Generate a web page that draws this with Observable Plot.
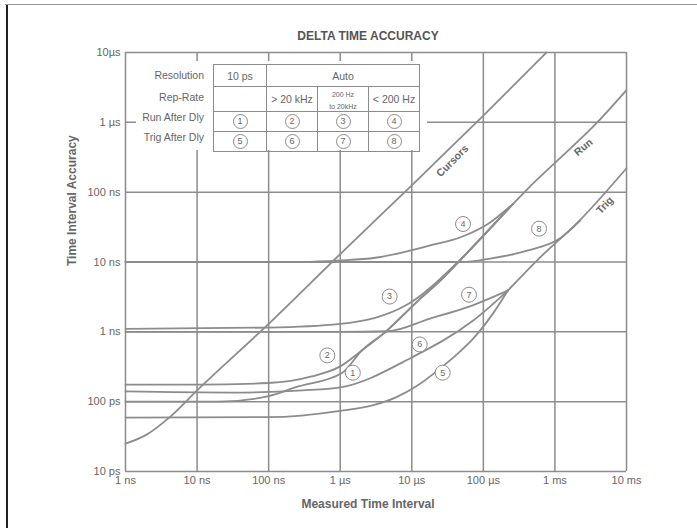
<!DOCTYPE html>
<html>
<head>
<meta charset="utf-8">
<script src="https://cdn.jsdelivr.net/npm/d3@7"></script>
<script src="https://cdn.jsdelivr.net/npm/@observablehq/plot@0.6"></script>
<style>
  html, body { margin: 0; padding: 0; background: #fff; }
  #wrap { position: relative; width: 697px; height: 528px; overflow: hidden; font-family: "Liberation Sans", Arial, sans-serif; color: #666; }
  #topline { position: absolute; left: 5px; top: 4px; width: 692px; height: 0; border-top: 1.5px solid #999; }
  #leftline { position: absolute; left: 6px; top: 5px; width: 0; height: 523px; border-left: 2px solid #222; }
  #cover { position: absolute; left: 136px; top: 61px; width: 291px; height: 89px; background: #fff; }
  #rowlabels { position: absolute; left: 120px; top: 64px; width: 84px; font-size: 10.5px; color: #666; text-align: right; }
  #legend { position: absolute; left: 213px; top: 64px; border-collapse: collapse; font-size: 10.5px; color: #666; }
  #legend td { border: 1px solid #8c8c8c; text-align: center; padding: 0; height: 19px; }
  .c { display: inline-block; width: 13px; height: 13px; line-height: 13px; border: 1px solid #8c8c8c; border-radius: 50%; font-size: 9px; }
  .small { font-size: 7px; line-height: 7px; }
</style>
</head>
<body>
<div id="wrap">
  <div id="chart"></div>
  <div id="cover"></div>
  <div id="rowlabels"></div>
  <table id="legend"></table>
  <div id="topline"></div>
  <div id="leftline"></div>
</div>
<script>
// ---- axis ticks ----
const xTicks = [1e-9, 1e-8, 1e-7, 1e-6, 1e-5, 1e-4, 1e-3, 1e-2];
const xTickLabels = ["1 ns", "10 ns", "100 ns", "1 µs", "10 µs", "100 µs", "1 ms", "10 ms"];
const yTicks = [1e-11, 1e-10, 1e-9, 1e-8, 1e-7, 1e-6, 1e-5];
const yTickLabels = ["10 ps", "100 ps", "1 ns", "10 ns", "100 ns", "1 µs", "10µs"];

// ---- curves: [measured interval (s), accuracy (s)] ----
const cursors = [[1e-9, 2.5e-11], [2e-9, 3.4e-11], [4e-9, 5.8e-11], [1e-8, 1.45e-10], [1e-7, 1.3e-9], [1e-6, 1.3e-8], [1e-5, 1.25e-7], [1e-4, 1.25e-6], [7.6e-4, 1e-5]];
const run = [[2.6e-4, 6.8e-8], [4.1e-4, 1.1e-7], [1.07e-3, 2.8e-7], [3.9e-3, 1e-6], [1e-2, 2.9e-6]];
const trig = [[2.2e-4, 3.9e-9], [5.6e-4, 1.05e-8], [2.2e-3, 3.9e-8], [1e-2, 2.2e-7]];
const curve1 = [[1e-9, 1e-10], [2e-8, 1e-10], [1e-7, 1.2e-10], [2.35e-7, 1.6e-10], [1.07e-6, 2.6e-10], [2e-6, 5.4e-10], [4.3e-6, 1e-9], [1.23e-5, 2.8e-9], [2.5e-5, 5.4e-9], [4.7e-5, 1.05e-8], [1.2e-4, 2.9e-8], [2.6e-4, 6.8e-8]];
const curve2 = [[1e-9, 1.75e-10], [1e-8, 1.75e-10], [1e-7, 1.85e-10], [4e-7, 2.3e-10], [1e-6, 3.2e-10], [2e-6, 5.4e-10], [4.3e-6, 1e-9], [1.23e-5, 2.8e-9], [2.5e-5, 5.4e-9], [4.7e-5, 1.05e-8], [1.2e-4, 2.9e-8], [2.6e-4, 6.8e-8]];
const curve3 = [[1e-9, 1.1e-9], [1e-7, 1.15e-9], [1e-6, 1.3e-9], [8.9e-6, 2.5e-9], [4.5e-5, 1.02e-8], [1.2e-4, 2.9e-8], [2.6e-4, 6.8e-8]];
const curve4 = [[1e-9, 1e-8], [3e-7, 1e-8], [1e-6, 1.05e-8], [3.1e-6, 1.15e-8], [1.7e-5, 1.7e-8], [5e-5, 2.3e-8], [1.2e-4, 3.6e-8], [2.6e-4, 6.8e-8]];
const curve5 = [[1e-9, 5.9e-11], [1e-7, 6e-11], [1e-6, 7.4e-11], [3e-6, 9e-11], [6e-6, 1.15e-10], [1.2e-5, 1.7e-10], [2.5e-5, 3e-10], [4.5e-5, 5e-10], [7.2e-5, 8e-10], [1.4e-4, 1.9e-9], [2.2e-4, 3.9e-9]];
const curve6 = [[1e-9, 1.4e-10], [3e-8, 1.35e-10], [3e-7, 1.45e-10], [1e-6, 1.6e-10], [1e-5, 4.3e-10], [7.2e-5, 1.45e-9], [2.2e-4, 3.9e-9]];
const curve7 = [[1e-9, 1e-9], [1e-6, 1e-9], [4.6e-6, 1.02e-9], [1.8e-5, 1.55e-9], [5.6e-5, 2.2e-9], [2.2e-4, 3.9e-9]];
const curve8 = [[1e-9, 1e-8], [5e-5, 1e-8], [1.25e-4, 1.12e-8], [4.1e-4, 1.45e-8], [1.2e-3, 2.2e-8], [2.25e-3, 3.9e-8]];

// ---- annotations ----
const circleNums = ["1", "2", "3", "4", "5", "6", "7", "8"];
const circleX = [1.5e-6, 6.6e-7, 4.9e-6, 5.2e-5, 2.7e-5, 1.29e-5, 6.3e-5, 6.0e-4];
const circleY = [2.6e-10, 4.6e-10, 3.2e-9, 3.5e-8, 2.6e-10, 6.6e-10, 3.4e-9, 3.0e-8];
const curveNames = ["Cursors", "Run", "Trig"];
const curveNameX = [3.7e-5, 2.5e-3, 5e-3];
const curveNameY = [2.8e-7, 4.4e-7, 6.5e-8];
const curveNameAngle = [-45, -40, -47];

// ---- legend table ----
const rowLabels = ["Resolution", "Rep-Rate", "Run After Dly", "Trig After Dly"];
const resolutions = ["10 ps", "Auto"];
const repRates = ["", "> 20 kHz", "200 Hz<br>to 20kHz", "< 200 Hz"];
const runNums = ["1", "2", "3", "4"];
const trigNums = ["5", "6", "7", "8"];

const title = "DELTA TIME ACCURACY";
const xLabel = "Measured Time Interval";
const yLabel = "Time Interval Accuracy";

const gray = "#8c8c8c";
const toObj = a => a.map(([x, y]) => ({x, y}));
const series = [curve1, curve2, curve3, curve4, curve5, curve6, curve7, curve8, run, trig, cursors];

const circles = circleNums.map((t, i) => ({t, x: circleX[i], y: circleY[i]}));
const names = curveNames.map((t, i) => ({t, x: curveNameX[i], y: curveNameY[i], a: curveNameAngle[i]}));

const chart = Plot.plot({
  width: 697,
  height: 528,
  marginLeft: 125,
  marginRight: 71,
  marginTop: 52,
  marginBottom: 57,
  style: {background: "transparent", fontFamily: "Liberation Sans, Arial, sans-serif", fontSize: "11px", color: "#666"},
  x: {type: "log", domain: [1e-9, 1e-2]},
  y: {type: "log", domain: [1e-11, 1e-5]},
  marks: [
    Plot.ruleX(xTicks, {stroke: gray, strokeWidth: 1.5}),
    Plot.ruleY(yTicks, {stroke: gray, strokeWidth: 1.5}),
    ...series.map(s => Plot.line(toObj(s), {x: "x", y: "y", stroke: gray, strokeWidth: 1.8, curve: "monotone-x"})),
    Plot.axisX({ticks: xTicks, tickFormat: d => xTickLabels[xTicks.indexOf(d)], tickSize: 0, tickPadding: 5, label: null, fontSize: 11}),
    Plot.axisY({ticks: yTicks, tickFormat: d => yTickLabels[yTicks.indexOf(d)], tickSize: 0, tickPadding: 5, label: null, fontSize: 11}),
    Plot.dot(circles, {x: "x", y: "y", r: 7.5, stroke: gray, strokeWidth: 1, fill: "white"}),
    Plot.text(circles, {x: "x", y: "y", text: "t", fill: "#666", fontSize: 9}),
    Plot.text(names, {x: "x", y: "y", text: "t", rotate: "a", fill: "#666", fontSize: 10.5, fontWeight: "bold", stroke: "white", strokeWidth: 3, paintOrder: "stroke"}),
    Plot.text([title], {frameAnchor: "top", dy: -21, dx: -8, fontSize: 12, fontWeight: "bold", fill: "#555"}),
    Plot.text([xLabel], {frameAnchor: "bottom", dy: 36, dx: -8, fontSize: 12, fontWeight: "bold", fill: "#666"}),
    Plot.text([yLabel], {frameAnchor: "left", dx: -53, dy: 4, rotate: -90, fontSize: 12, fontWeight: "bold", fill: "#666"})
  ]
});
document.getElementById("chart").appendChild(chart);

// legend
document.getElementById("rowlabels").innerHTML = rowLabels.map((r, i) => `<div style="height:${i === 0 ? 23 : 20}px;line-height:${i === 0 ? 23 : 20}px">${r}</div>`).join("");
const circ = t => `<span class="c">${t}</span>`;
const esc = s => s.replace("<br>", "\u0000").replace(/</g, "&lt;").replace(/>/g, "&gt;").replace("\u0000", "<br>");
document.getElementById("legend").innerHTML =
  `<tr style="height:22px"><td style="width:52px">${resolutions[0]}</td><td colspan="3">${resolutions[1]}</td></tr>` +
  `<tr>${repRates.map((r, i) => `<td style="width:${i === 0 ? 52 : 50}px">${i === 2 ? `<span class="small">${esc(r)}</span>` : esc(r)}</td>`).join("")}</tr>` +
  `<tr>${runNums.map(n => `<td>${circ(n)}</td>`).join("")}</tr>` +
  `<tr>${trigNums.map(n => `<td>${circ(n)}</td>`).join("")}</tr>`;
</script>
</body>
</html>
